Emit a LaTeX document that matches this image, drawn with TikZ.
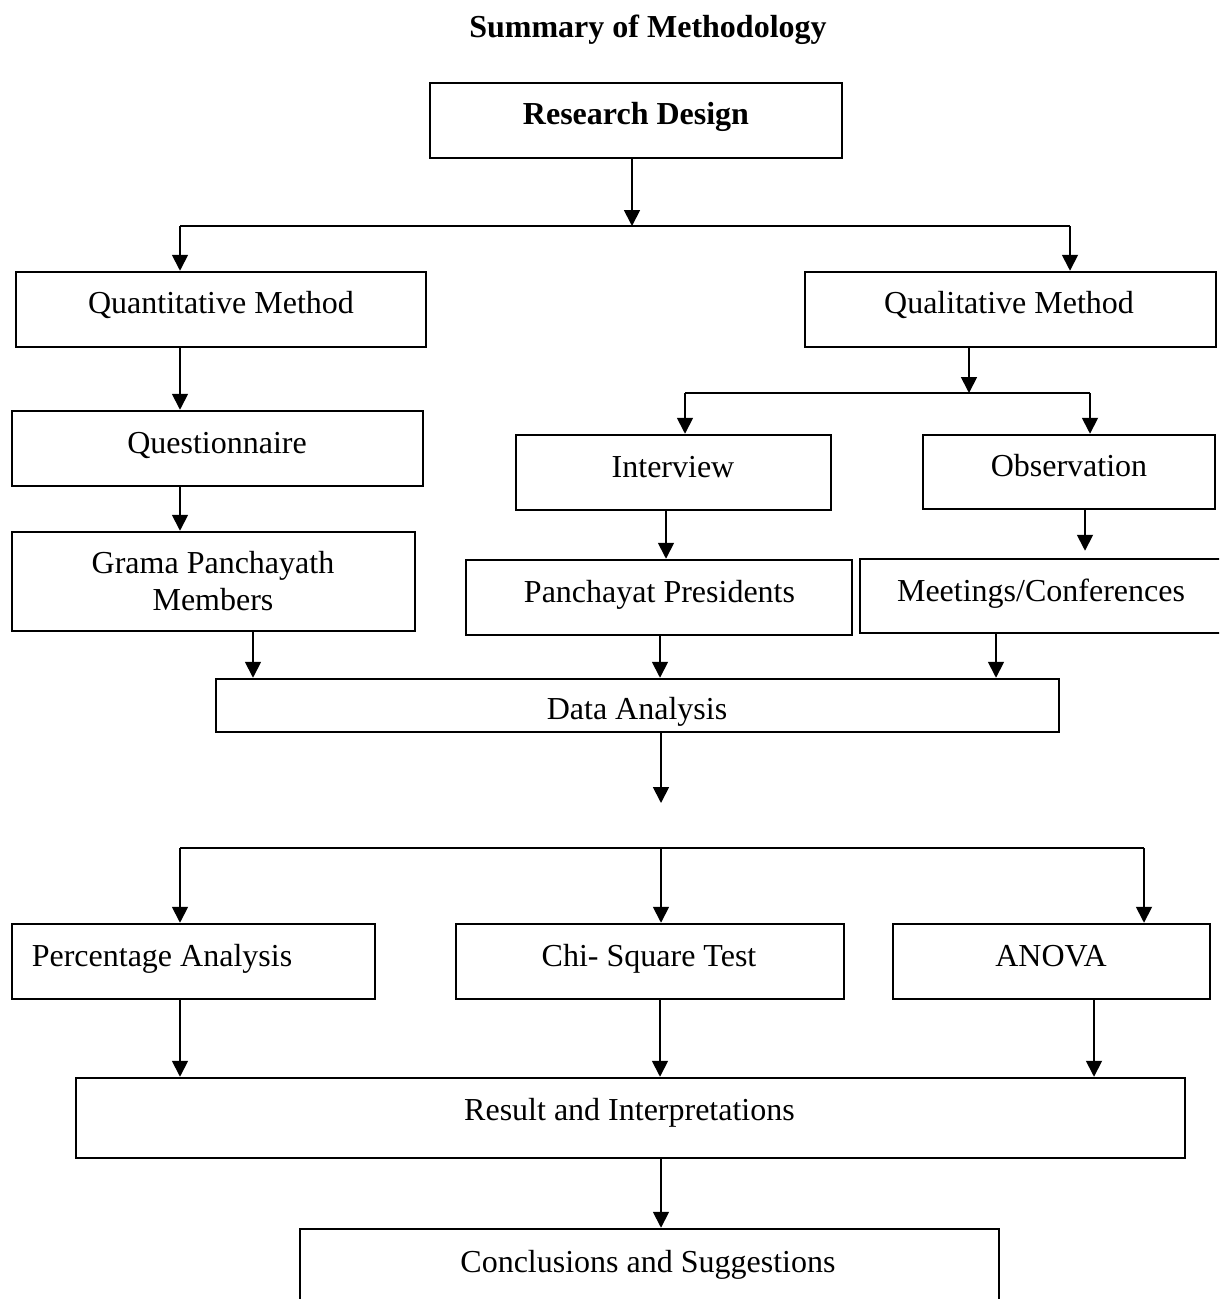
\documentclass[tikz,border=0pt]{standalone}
\usepackage{fontspec}
\setmainfont{Liberation Serif}
\usetikzlibrary{arrows.meta,calc}
\begin{document}
\begin{tikzpicture}[x=1pt,y=-1pt,
  box/.style={draw,line width=2.5pt,inner sep=0pt},
  txt/.style={font=\fontsize{32}{37}\selectfont,anchor=base,inner sep=0pt,align=center},
  conn/.style={line width=1.8pt},
  arr/.style={conn,-{Triangle[length=16pt,width=16pt]}}]
\clip (0,0) rectangle (1219,1299);
\fill[white] (0,0) rectangle (1219,1299);
% title
\node[txt,font=\fontsize{32}{37}\selectfont\bfseries] (title) at (648,37) {Summary of Methodology};
% boxes
\node[box,minimum width=412pt,minimum height=75pt] (rd) at (636,120.5) {};
\node[box,minimum width=410pt,minimum height=75pt] (quant) at (221,309.5) {};
\node[box,minimum width=411pt,minimum height=75pt] (qual) at (1010.5,309.5) {};
\node[box,minimum width=411pt,minimum height=75pt] (quest) at (217.5,448.5) {};
\node[box,minimum width=403pt,minimum height=99pt] (grama) at (213.5,581.5) {};
\node[box,minimum width=315pt,minimum height=75pt] (intv) at (673.5,472.5) {};
\node[box,minimum width=292pt,minimum height=74pt] (obs) at (1069,472) {};
\node[box,minimum width=386pt,minimum height=75pt] (pres) at (659,597.5) {};
\node[box,minimum width=380pt,minimum height=74pt] (meet) at (1050,596) {};
\node[box,minimum width=843pt,minimum height=53pt] (da) at (637.5,705.5) {};
\node[box,minimum width=363pt,minimum height=75pt] (pct) at (193.5,961.5) {};
\node[box,minimum width=388pt,minimum height=75pt] (chi) at (650,961.5) {};
\node[box,minimum width=317pt,minimum height=75pt] (anova) at (1051.5,961.5) {};
\node[box,minimum width=1109pt,minimum height=80pt] (res) at (630.5,1118) {};
\node[box,minimum width=699pt,minimum height=102pt] (conc) at (649.5,1280) {};
% texts
\node[txt,font=\fontsize{32}{37}\selectfont\bfseries] (rdt) at (636,124) {Research Design};
\node[txt] (quantt) at (221,313) {Quantitative Method};
\node[txt] (qualt) at (1009,313) {Qualitative Method};
\node[txt] (questt) at (217,453) {Questionnaire};
\node[txt] (gramat) at (213,610) {Grama Panchayath\\Members};
\node[txt] (intvt) at (673,477) {Interview};
\node[txt] (obst) at (1069,476) {Observation};
\node[txt] (prest) at (659.5,602) {Panchayat Presidents};
\node[txt] (meett) at (1041,601) {Meetings/Conferences};
\node[txt] (dat) at (637,719) {Data Analysis};
\node[txt] (pctt) at (162,966) {Percentage Analysis};
\node[txt] (chit) at (649,966) {Chi- Square Test};
\node[txt] (anovat) at (1051,966) {ANOVA};
\node[txt] (rest) at (629.5,1120) {Result and Interpretations};
\node[txt] (conct) at (648,1272) {Conclusions and Suggestions};
% junctions
\coordinate (j1) at (632,226);
\coordinate (j1l) at (180,226);
\coordinate (j1r) at (1070,226);
\coordinate (j2) at (969,393);
\coordinate (j2l) at (685,393);
\coordinate (j2r) at (1090,393);
\coordinate (daend) at (661,803);
\coordinate (j3l) at (180,848);
\coordinate (j3m) at (661,848);
\coordinate (j3r) at (1144,848);
% connectors
\draw[arr] (rd.south -| j1) -- (j1);
\draw[conn] (j1l) -- (j1r);
\draw[arr] (j1l) -- (j1l |- quant.north);
\draw[arr] (j1r) -- (j1r |- qual.north);
\draw[arr] (quant.south -| 180,0) -- (quest.north -| 180,0);
\draw[arr] (quest.south -| 180,0) -- (grama.north -| 180,0);
\draw[arr] (qual.south -| j2) -- (j2);
\draw[conn] (j2l) -- (j2r);
\draw[arr] (j2l) -- (j2l |- intv.north);
\draw[arr] (j2r) -- (j2r |- obs.north);
\draw[arr] (intv.south -| 666,0) -- (pres.north -| 666,0);
\draw[arr,shorten >=7pt] (obs.south -| 1085,0) -- (meet.north -| 1085,0);
\draw[arr] (grama.south -| 253,0) -- (da.north -| 253,0);
\draw[arr] (pres.south -| 660,0) -- (da.north -| 660,0);
\draw[arr] (meet.south -| 996,0) -- (da.north -| 996,0);
\draw[arr] (da.south -| daend) -- (daend);
\draw[conn] (j3l) -- (j3r);
\draw[arr] (j3l) -- (j3l |- pct.north);
\draw[arr] (j3m) -- (j3m |- chi.north);
\draw[arr] (j3r) -- (j3r |- anova.north);
\draw[arr] (pct.south -| 180,0) -- (res.north -| 180,0);
\draw[arr] (chi.south -| 660,0) -- (res.north -| 660,0);
\draw[arr] (anova.south -| 1094,0) -- (res.north -| 1094,0);
\draw[arr] (res.south -| 661,0) -- (conc.north -| 661,0);
\end{tikzpicture}
\end{document}
